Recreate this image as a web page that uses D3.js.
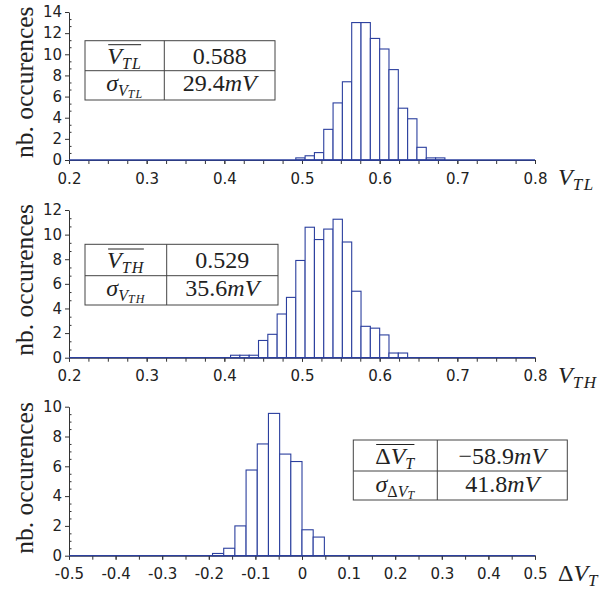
<!DOCTYPE html>
<html><head><meta charset="utf-8">
<script src="https://cdn.jsdelivr.net/npm/d3@7"></script>
<style>body{margin:0;background:#fff} svg{display:block}</style>
</head><body>
<svg id="c" width="606" height="590"></svg>
<script>
// ---------- data ----------
const vtlStart = 0.492, vtlBin = 0.012;
const vtlCounts = [0.2, 0.4, 0.7, 2.9, 5.4, 7.4, 13.0, 13.0, 11.5, 10.5, 8.55, 4.9, 3.9, 1.2, 0.2, 0.2];
const vthStart = 0.408, vthBin = 0.012;
const vthCounts = [0.2, 0.2, 0.2, 1.4, 1.9, 3.55, 4.9, 7.9, 10.6, 9.6, 10.45, 11.25, 9.4, 5.4, 2.55, 2.4, 1.85, 0.38, 0.38];
const dvtStart = -0.192, dvtBin = 0.024;
const dvtCounts = [0.15, 0.5, 2.0, 5.75, 7.5, 9.55, 6.82, 6.32, 1.74, 1.25];

const xTicksV = [0.2, 0.3, 0.4, 0.5, 0.6, 0.7, 0.8];
const xTicksD = [-0.5, -0.4, -0.3, -0.2, -0.1, 0, 0.1, 0.2, 0.3, 0.4, 0.5];
const yTicksTL = [0, 2, 4, 6, 8, 10, 12, 14];
const yTicksTH = [0, 2, 4, 6, 8, 10, 12];
const yTicksD = [0, 2, 4, 6, 8, 10];

const yLabel = "nb. occurences";
const tableTL = {mean: {base: "V", sub: "TL"}, meanVal: ["0.588", ""], sigmaSub: {pre: "V", sub: "TL"}, sigmaVal: ["29.4", "mV"]};
const tableTH = {mean: {base: "V", sub: "TH"}, meanVal: ["0.529", ""], sigmaSub: {pre: "V", sub: "TH"}, sigmaVal: ["35.6", "mV"]};
const tableD  = {mean: {delta: true, base: "V", sub: "T"}, meanVal: ["\u221258.9", "mV"], sigmaSub: {delta: true, pre: "V", sub: "T"}, sigmaVal: ["41.8", "mV"]};

// ---------- layout ----------
const svg = d3.select("#c");
const BLUE = "#2b3f9e", AX = "#333";
const SERIF = "'Liberation Serif', 'Times New Roman', serif";
const SANS = "'DejaVu Sans', sans-serif";
const L = 69, R = 535;

const panels = [
  {top: 12, bot: 160, xd: [0.2, 0.8], yMax: 14, start: vtlStart, bin: vtlBin, counts: vtlCounts,
   xt: xTicksV, xminor: 0.025, yt: yTicksTL, yminor: 2/3, title: {delta: false, sub: "TL"},
   table: tableTL, tb: {x0: 85, xd: 164.3, x1: 275, y0: 40.7, ym: 70.7, y1: 100}},
  {top: 210, bot: 357.7, xd: [0.2, 0.8], yMax: 12, start: vthStart, bin: vthBin, counts: vthCounts,
   xt: xTicksV, xminor: 0.025, yt: yTicksTH, yminor: 2/3, title: {delta: false, sub: "TH"},
   table: tableTH, tb: {x0: 85, xd: 166.7, x1: 278, y0: 244.3, ym: 275.7, y1: 305}},
  {top: 406.7, bot: 555.7, xd: [-0.5, 0.5], yMax: 10, start: dvtStart, bin: dvtBin, counts: dvtCounts,
   xt: xTicksD, xminor: 0.05, yt: yTicksD, yminor: 0.5, title: {delta: true, sub: "T"},
   table: tableD, tb: {x0: 353.3, xd: 437.3, x1: 567.3, y0: 440, ym: 471, y1: 500}}
];

function rng(a, b, s) { const out = []; const n = Math.round((b - a) / s); for (let i = 0; i <= n; i++) out.push(+(a + i * s).toFixed(6)); return out; }
const fmtTick = d => String(+d.toFixed(1));   // plain hyphen minus, like the reference

panels.forEach(p => {
  const x = d3.scaleLinear().domain(p.xd).range([L, R]);
  const y = d3.scaleLinear().domain([0, p.yMax]).range([p.bot, p.top]);
  const g = svg.append("g");

  // x axis minor ticks
  const xMinor = rng(p.xd[0], p.xd[1], p.xminor);
  const gxm = g.append("g").attr("transform", `translate(0,${p.bot})`)
    .call(d3.axisBottom(x).tickValues(xMinor).tickSize(4).tickSizeOuter(0).tickFormat(""));
  gxm.select(".domain").attr("stroke", AX);
  gxm.selectAll("line").attr("stroke", AX);
  const gx = g.append("g").attr("transform", `translate(0,${p.bot})`)
    .call(d3.axisBottom(x).tickValues(p.xt).tickSize(4).tickSizeOuter(0).tickPadding(9).tickFormat(fmtTick));
  gx.select(".domain").remove();
  gx.selectAll("line").attr("stroke", AX);
  gx.selectAll("text").attr("font-family", SANS).attr("font-size", 15).attr("fill", "#222");

  // y axis
  const yMinor = rng(0, p.yMax, p.yminor).filter(v => Math.abs(v / 2 - Math.round(v / 2)) > 1e-6);
  const gym = g.append("g").attr("transform", `translate(${L},0)`)
    .call(d3.axisRight(y).tickValues(yMinor).tickSize(2.5).tickSizeOuter(0).tickFormat(""));
  gym.select(".domain").remove();
  gym.selectAll("line").attr("stroke", AX);
  const gy = g.append("g").attr("transform", `translate(${L},0)`)
    .call(d3.axisLeft(y).tickValues(p.yt).tickSize(4).tickSizeOuter(0).tickPadding(3));
  gy.select(".domain").attr("stroke", AX);
  gy.selectAll("line").attr("stroke", AX);
  gy.selectAll("text").attr("font-family", SANS).attr("font-size", 15).attr("fill", "#222");

  // bars
  g.append("g").selectAll("rect").data(p.counts).join("rect")
    .attr("x", (d, i) => x(p.start + i * p.bin))
    .attr("width", (d, i) => x(p.start + (i + 1) * p.bin) - x(p.start + i * p.bin))
    .attr("y", d => y(d))
    .attr("height", d => y(0) - y(d))
    .attr("fill", "#fff").attr("stroke", BLUE).attr("stroke-width", 1.1);
  // zero-height bins baseline
  g.append("line").attr("x1", x(p.xd[0])).attr("x2", x(p.xd[1]))
    .attr("y1", y(0)).attr("y2", y(0)).attr("stroke", BLUE).attr("stroke-width", 1.3);

  // y label
  g.append("text").attr("transform", `translate(33,${p.bot - 2}) rotate(-90)`)
    .attr("font-family", SERIF).attr("font-size", 25.5).attr("fill", "#222").text(yLabel);

  // x title
  const t = g.append("text").attr("x", 558).attr("y", p.bot + 25)
    .attr("font-family", SERIF).attr("font-size", 24).attr("fill", "#222");
  if (p.title.delta) t.append("tspan").text("\u0394");
  t.append("tspan").attr("font-style", "italic").text("V");
  t.append("tspan").attr("font-style", "italic").attr("font-size", 17).attr("letter-spacing", 1.5).attr("dy", 5).text(p.title.sub);

  // table
  const tb = p.tb, tbl = p.table;
  const tg = g.append("g");
  tg.append("rect").attr("x", tb.x0).attr("y", tb.y0).attr("width", tb.x1 - tb.x0).attr("height", tb.y1 - tb.y0)
    .attr("fill", "#fff").attr("stroke", "#444").attr("stroke-width", 1);
  tg.append("line").attr("x1", tb.x0).attr("x2", tb.x1).attr("y1", tb.ym).attr("y2", tb.ym).attr("stroke", "#444");
  tg.append("line").attr("x1", tb.xd).attr("x2", tb.xd).attr("y1", tb.y0).attr("y2", tb.y1).attr("stroke", "#444");
  const cL = (tb.x0 + tb.xd) / 2, cR = (tb.xd + tb.x1) / 2;
  const b1 = (tb.y0 + tb.ym) / 2 + 8, b2 = (tb.ym + tb.y1) / 2 + 6;
  const FS = 24;
  // mean label with overline
  const m = tg.append("text").attr("x", cL).attr("y", b1).attr("text-anchor", "middle")
    .attr("font-family", SERIF).attr("font-size", FS).attr("fill", "#222");
  if (tbl.mean.delta) m.append("tspan").text("\u0394");
  m.append("tspan").attr("font-style", "italic").text(tbl.mean.base);
  m.append("tspan").attr("font-style", "italic").attr("font-size", 16).attr("letter-spacing", 1.2).attr("dy", 5).text(tbl.mean.sub);
  const bb = m.node().getBBox();
  tg.append("line").attr("x1", bb.x + 1).attr("x2", bb.x + bb.width - 1)
    .attr("y1", b1 - 19).attr("y2", b1 - 19).attr("stroke", "#222").attr("stroke-width", 1);
  // mean value
  const mv = tg.append("text").attr("x", cR).attr("y", b1).attr("text-anchor", "middle")
    .attr("font-family", SERIF).attr("font-size", FS).attr("fill", "#222");
  mv.append("tspan").text(tbl.meanVal[0]);
  if (tbl.meanVal[1]) mv.append("tspan").attr("font-style", "italic").text(tbl.meanVal[1]);
  // sigma label
  const s = tg.append("text").attr("x", cL).attr("y", b2).attr("text-anchor", "middle")
    .attr("font-family", SERIF).attr("font-size", FS).attr("fill", "#222");
  s.append("tspan").attr("font-style", "italic").text("\u03C3");
  const s1 = s.append("tspan").attr("font-size", 16).attr("dy", 5);
  if (tbl.sigmaSub.delta) s1.append("tspan").text("\u0394");
  s1.append("tspan").attr("font-style", "italic").text(tbl.sigmaSub.pre);
  s.append("tspan").attr("font-style", "italic").attr("font-size", 12).attr("letter-spacing", 1).attr("dy", 2).text(tbl.sigmaSub.sub);
  // sigma value
  const sv = tg.append("text").attr("x", cR).attr("y", b2).attr("text-anchor", "middle")
    .attr("font-family", SERIF).attr("font-size", FS).attr("fill", "#222");
  sv.append("tspan").text(tbl.sigmaVal[0]);
  sv.append("tspan").attr("font-style", "italic").text(tbl.sigmaVal[1]);
});
</script>
</body></html>
